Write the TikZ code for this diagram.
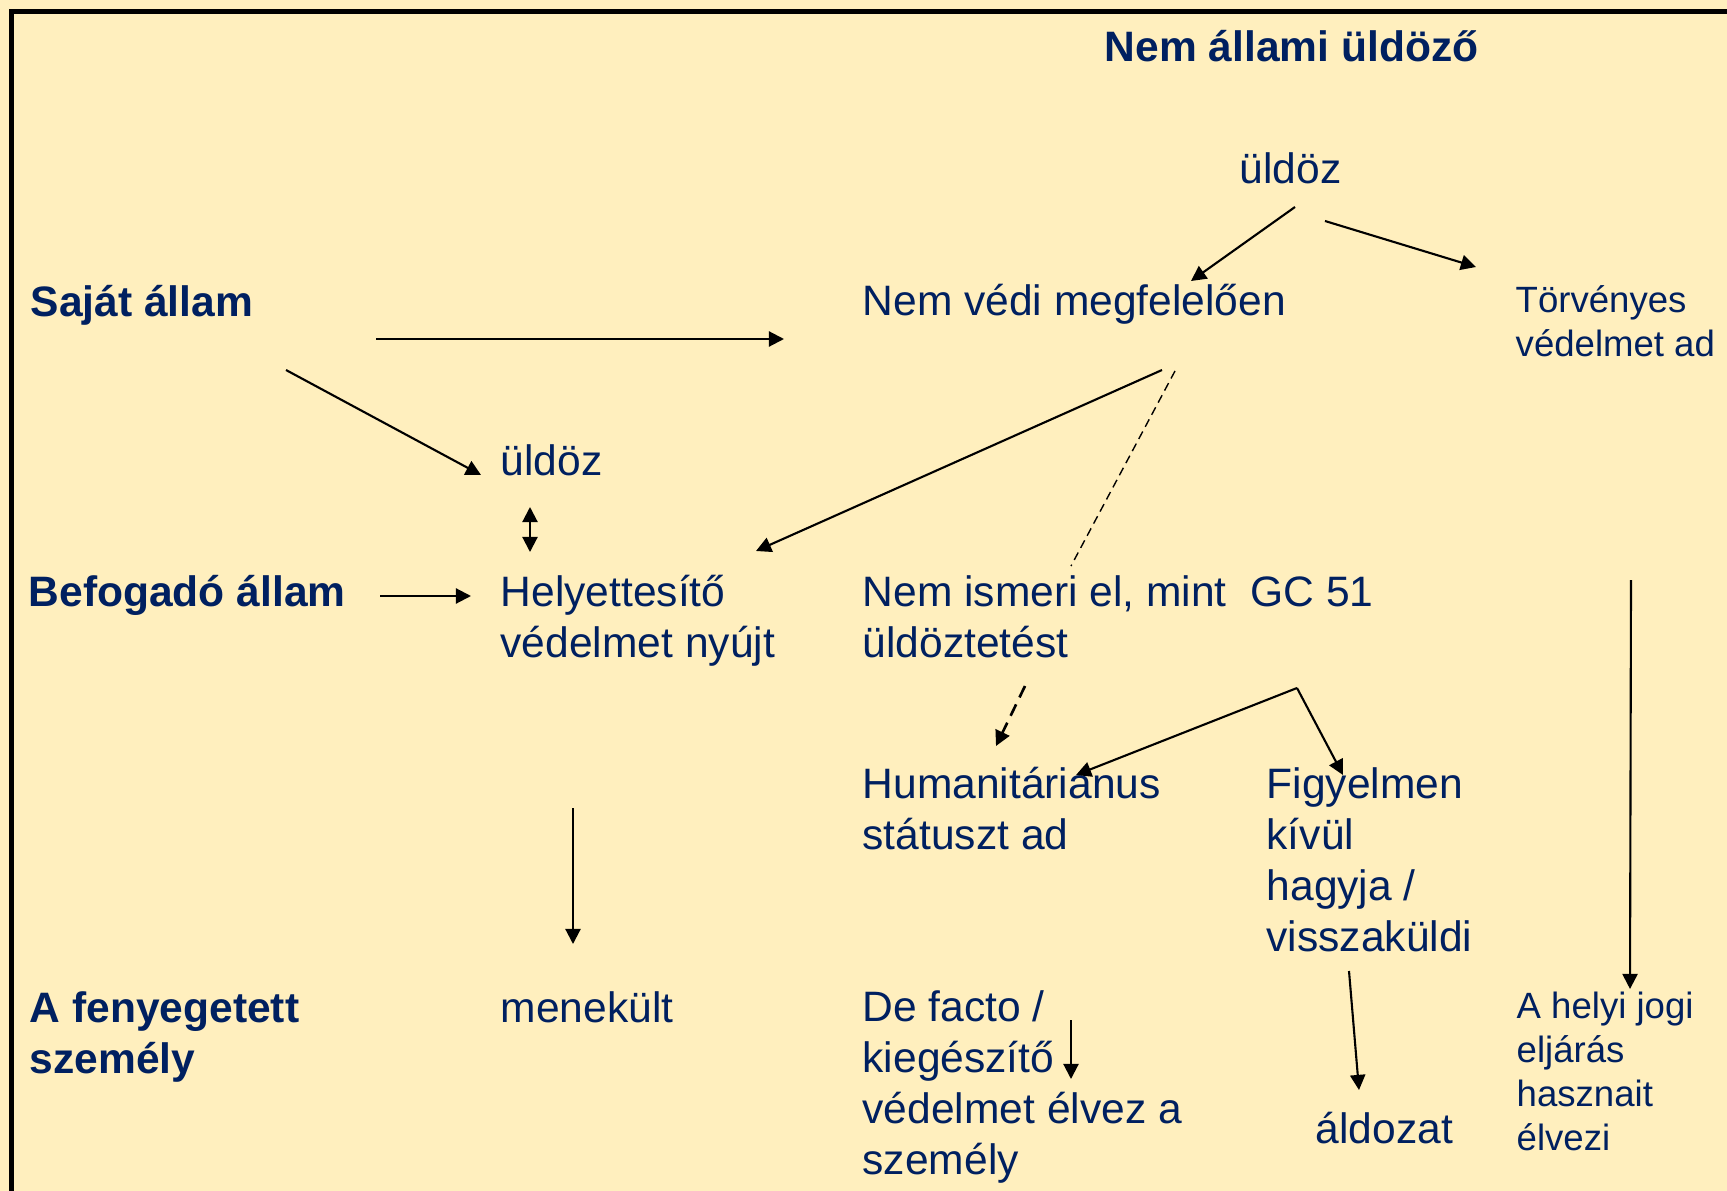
\documentclass[tikz,border=0pt]{standalone}
\usepackage{fontspec}
\setmainfont{Liberation Sans}
\usepackage{xcolor}
\usepackage{tikz}
\usetikzlibrary{arrows.meta}

\definecolor{navy}{RGB}{0,32,96}
\definecolor{paper}{RGB}{255,239,190}

\tikzset{
  txt/.style = {anchor=base west, inner sep=0pt, text=navy, align=left,
                font=\fontsize{12.1pt}{14.5pt}\selectfont},
  headtxt/.style = {txt, font=\fontsize{12.1pt}{14.5pt}\selectfont\bfseries},
  smalltxt/.style = {txt, font=\fontsize{10.4pt}{12.5pt}\selectfont},
  arr/.style = {line width=0.6pt, -{Triangle[length=4.3pt,width=4.3pt]}},
  dasharr/.style = {arr, line width=0.75pt, dash pattern=on 3.6pt off 2.2pt},
  dashline/.style = {line width=0.4pt, dash pattern=on 2.4pt off 1.5pt}
}

\begin{document}
\begin{tikzpicture}[x=0.01cm, y=-0.01cm]
            \useasboundingbox (0,0) rectangle (1727,1191);
            \fill[paper] (0,0) rectangle (1727,1191);
            \draw[line width=1.4pt, line join=miter] (11.5,1191) -- (11.5,11.5) -- (1727,11.5);

            % row titles (multi-line nodes sit on their last baseline)
            \node[headtxt] (nemallami) at (1104,62) {Nem állami üldöző};
            \node[headtxt] (sajat) at (30,317) {Saját állam};
            \node[headtxt] (befogado) at (28,606) {Befogadó állam};
            \node[headtxt] (fenyegetett) at (29,1073) {A fenyegetett\\személy};

            % texts
            \node[txt] (uldoz) at (1239,184) {üldöz};
            \node[txt] (nemvedi) at (862,315) {Nem védi megfelelően};
            \node[smalltxt] (torvenyes) at (1515,356) {Törvényes\\védelmet ad};
            \node[txt] (uldozb) at (500,475) {üldöz};
            \node[txt] (helyett) at (500,657) {Helyettesítő\\védelmet nyújt};
            \node[txt] (nemismeri) at (862,657) {Nem ismeri el, mint\ \ GC 51\\üldöztetést};
            \node[txt] (human) at (862,849) {Humanitárianus\\státuszt ad};
            \node[txt] (figyelmen) at (1266,951) {Figyelmen\\kívül\\hagyja /\\visszaküldi};
            \node[txt] (menekult) at (500,1022) {menekült};
            \node[txt] (defacto) at (862,1174) {De facto /\\kiegészítő\\védelmet élvez a\\személy};
            \node[txt] (aldozat) at (1315,1143) {áldozat};
            \node[smalltxt] (helyi) at (1516,1150) {A helyi jogi\\eljárás\\hasznait\\élvezi};

            % arrow ends
            \coordinate (u1) at (1295,207);  \coordinate (u2) at (1191,281);
            \coordinate (u3) at (1325,221);  \coordinate (u4) at (1476,267);
            \coordinate (s1) at (376,339);   \coordinate (s2) at (784,339);
            \coordinate (s3) at (286,370);   \coordinate (s4) at (481,475);
            \coordinate (v1) at (1162,370);  \coordinate (v2) at (756,551);
            \coordinate (v3) at (1175,371);  \coordinate (v4) at (1071,566);
            \coordinate (d1) at (530,507);   \coordinate (d2) at (530,552);
            \coordinate (b1) at (380,596);   \coordinate (b2) at (471,596);
            \coordinate (t1) at (1631,580);  \coordinate (t2) at (1630,989);
            \coordinate (g1) at (1025,686);  \coordinate (g2) at (996,746);
            \coordinate (apex) at (1297,688);
            \coordinate (h1) at (1076,775);  \coordinate (f1) at (1343,775);
            \coordinate (m1) at (573,808);   \coordinate (m2) at (573,944);
            \coordinate (k1) at (1349,971);  \coordinate (k2) at (1359,1090);
            \coordinate (e1) at (1071,1020); \coordinate (e2) at (1071,1079);

            \draw[arr] (u1) -- (u2);
            \draw[arr] (u3) -- (u4);
            \draw[arr] (s1) -- (s2);
            \draw[arr] (s3) -- (s4);
            \draw[arr] (v1) -- (v2);
            \draw[dashline] (v3) -- (v4);
            \draw[arr, {Triangle[length=4.3pt,width=4.3pt]}-{Triangle[length=4.3pt,width=4.3pt]}] (d1) -- (d2);
            \draw[arr] (b1) -- (b2);
            \draw[arr] (t1) -- (t2);
            \draw[dasharr] (g1) -- (g2);
            \draw[arr] (apex) -- (h1);
            \draw[arr] (apex) -- (f1);
            \draw[arr] (m1) -- (m2);
            \draw[arr] (k1) -- (k2);
            \draw[arr] (e1) -- (e2);
        \end{tikzpicture}
\end{document}
